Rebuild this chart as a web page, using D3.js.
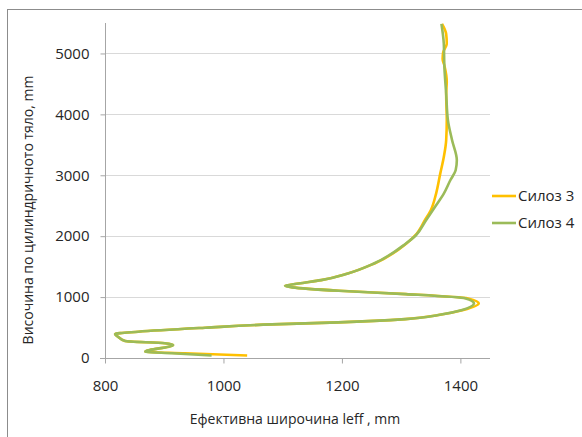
<!DOCTYPE html>
<html>
<head>
<meta charset="utf-8">
<script src="https://cdn.jsdelivr.net/npm/d3@7"></script>
<style>
  body { margin: 0; background: #fff; }
  text { font-family: "Open Sans", sans-serif; fill: #262626; }
</style>
</head>
<body>
<script>
// Силоз 3 (yellow): height (mm) and effective width (mm)
const silo3Height = [42, 77, 103, 213, 241, 279, 349, 393, 431, 497, 552, 585, 639, 705, 787, 897, 978, 1049, 1103, 1159, 1186, 1224, 1279, 1388, 1552, 1880, 2016, 2262, 2426, 2700, 3027, 3300, 3574, 3902, 4339, 4530, 4803, 4910, 5020, 5160, 5320, 5486];
const silo3Width  = [1040, 935, 868, 915, 901, 834, 822, 817, 856, 969, 1082, 1194, 1307, 1363, 1405, 1431, 1413, 1309, 1196, 1117, 1104, 1127, 1165, 1210, 1255, 1309, 1324, 1340, 1350, 1359, 1366, 1372, 1376, 1377, 1376, 1377, 1373, 1370, 1371, 1377, 1376, 1369];

// Силоз 4 (green)
const silo4Height = [42, 77, 103, 213, 241, 279, 349, 393, 431, 497, 552, 585, 639, 705, 787, 897, 978, 1049, 1103, 1159, 1186, 1224, 1279, 1388, 1552, 1880, 2016, 2262, 2480, 2700, 2918, 3082, 3246, 3574, 3902, 4339, 4775, 5160, 5486];
const silo4Width  = [980, 913, 868, 915, 901, 834, 822, 817, 856, 969, 1082, 1194, 1307, 1363, 1403, 1423, 1409, 1307, 1194, 1116, 1104, 1127, 1165, 1210, 1254, 1308, 1325, 1342, 1357, 1372, 1383, 1392, 1394, 1386, 1379, 1376, 1373, 1372, 1368];

const xTicks = [800, 1000, 1200, 1400];
const yTicks = [0, 1000, 2000, 3000, 4000, 5000];

const series = [
  { name: "Силоз 3", h: silo3Height, w: silo3Width, color: "#FFC000" },
  { name: "Силоз 4", h: silo4Height, w: silo4Width, color: "#9BBB59" }
];

const W = 582, H = 437;
const svg = d3.select("body").append("svg")
  .attr("width", W)
  .attr("height", H);

// chart frame
svg.append("rect")
  .attr("x", 7.5).attr("y", 9.5)
  .attr("width", 600).attr("height", 450)
  .attr("fill", "none")
  .attr("stroke", "#8c8c8c");

const x = d3.scaleLinear().domain([800, 1450]).range([105, 490]);
const y = d3.scaleLinear().domain([0, 5500]).range([358, 23]);

// gridlines
svg.append("g")
  .selectAll("line")
  .data(yTicks.filter(d => d > 0))
  .enter()
  .append("line")
  .attr("x1", x(800)).attr("x2", x(1450))
  .attr("y1", d => Math.round(y(d)) + 0.5)
  .attr("y2", d => Math.round(y(d)) + 0.5)
  .attr("stroke", "#d9d9d9");

// Y axis
const yAxis = svg.append("g")
  .attr("transform", "translate(" + (x(800) + 0.5) + ",0)")
  .call(d3.axisLeft(y).tickValues(yTicks).tickFormat(d3.format("d"))
    .tickSize(5).tickPadding(11).tickSizeOuter(0));

// X axis
const xAxis = svg.append("g")
  .attr("transform", "translate(0," + (Math.round(y(0)) + 0.5) + ")")
  .call(d3.axisBottom(x).tickValues(xTicks).tickFormat(d3.format("d"))
    .tickSize(5).tickPadding(17).tickSizeOuter(0));

[yAxis, xAxis].forEach(a => {
  a.select(".domain").attr("stroke", "#a6a6a6");
  a.selectAll(".tick line").attr("stroke", "#a6a6a6");
  a.selectAll("text").style("font-size", "15px").attr("fill", "#262626");
});
// x axis line extends slightly left of the y axis, y axis slightly below
xAxis.select(".domain").attr("d", "M" + (x(800) - 5) + ",0H" + x(1450));
yAxis.select(".domain").attr("d", "M0," + y(5500) + "V" + (y(0) + 5));

// lines
const line = d3.line()
  .x(d => x(d[1]))
  .y(d => y(d[0]))
  .curve(d3.curveMonotoneY);

series.forEach(s => {
  svg.append("path")
    .datum(d3.zip(s.h, s.w))
    .attr("fill", "none")
    .attr("stroke", s.color)
    .attr("stroke-width", 2.6)
    .attr("stroke-linejoin", "round")
    .attr("d", line);
});

// legend
const legend = svg.append("g");
series.forEach((s, i) => {
  const ly = 196 + i * 27;
  legend.append("line")
    .attr("x1", 492).attr("x2", 516)
    .attr("y1", ly).attr("y2", ly)
    .attr("stroke", s.color)
    .attr("stroke-width", 2.6);
  legend.append("text")
    .attr("x", 518).attr("y", ly)
    .attr("dy", "0.35em")
    .style("font-size", "15px")
    .text(s.name);
});

// axis titles
svg.append("text")
  .attr("x", 295).attr("y", 419)
  .attr("dy", "0.35em")
  .attr("text-anchor", "middle")
  .style("font-size", "14px")
  .text("Ефективна широчина leff , mm");

svg.append("text")
  .attr("transform", "translate(28,210) rotate(-90)")
  .attr("dy", "0.35em")
  .attr("text-anchor", "middle")
  .style("font-size", "14px")
  .text("Височина по цилиндричното тяло, mm");
</script>
</body>
</html>
